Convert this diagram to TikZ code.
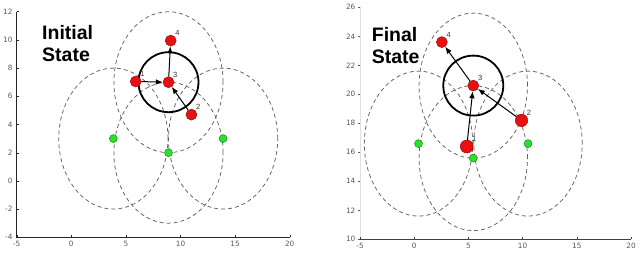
\documentclass[tikz,border=0pt]{standalone}
\usepackage{fontspec}
\setmainfont{Liberation Sans}
\newfontfamily\tickfont{DejaVu Sans}
\usepackage{tikz}
\usetikzlibrary{arrows.meta}
\usepackage{xcolor}
\definecolor{nodered}{RGB}{232,16,16}
\definecolor{rededge}{RGB}{140,0,0}
\definecolor{nodegreen}{RGB}{40,225,40}
\definecolor{greenedge}{RGB}{20,120,20}

\begin{document}
\begin{tikzpicture}[x=1pt, y=1pt,
  rnode/.style={circle, draw=rededge, fill=nodered, line width=0.4pt, inner sep=0pt, minimum size=11pt},
  gnode/.style={circle, draw=greenedge, fill=nodegreen, line width=0.4pt, inner sep=0pt, minimum size=8pt},
  rangeline/.style={draw=black!62, dash pattern=on 4pt off 3pt, line width=0.75pt},
  cover/.style={draw=black, line width=1.8pt},
  link/.style={-{Latex[length=7pt,width=5.5pt]}, line width=1pt},
  numlbl/.style={font=\fontsize{7.5}{8}\selectfont, text=black!80, inner sep=0.5pt},
  ticklbl/.style={font=\tickfont\fontsize{7.3}{8}\selectfont, text=black!65, inner sep=0pt},
  title/.style={font=\bfseries\fontsize{19.5}{22.4}\selectfont, align=left, inner sep=0pt, anchor=north west}]
  \useasboundingbox (0,0) rectangle (640,255);

  \node[title] (tinit) at (42,230) {Initial\\State};
  \begin{scope}[shift={(71.3,74.1)}, x=10.92pt, y=14.1pt]
    \draw[black!85, line width=0.7pt] (-5,12) -- (-5,-4) -- (20,-4);
    \foreach \y in {-4,-2,...,12} {
      \draw[black!85] (-5,\y) -- ++(2pt,0);
      \node[ticklbl, anchor=east] at ([xshift=-4pt]-5,\y) {\y};
    }
    \foreach \x in {-5,0,...,20} {
      \draw[black!85] (\x,-4) -- ++(0,2.5pt);
      \node[ticklbl, anchor=north] at ([yshift=-4pt]\x,-4) {\x};
    }
    \foreach \p in {(8.9,7),(3.85,3),(8.9,2),(13.9,3)}
      \draw[rangeline] \p circle [radius=5];
    \draw[cover] (8.9,7) circle [radius=30pt];
    \node[gnode] (Lg1) at (3.85,3) {};
    \node[gnode] (Lg2) at (8.9,2) {};
    \node[gnode] (Lg3) at (13.9,3) {};
    \node[rnode, label={[numlbl]45:1}] (L1) at (5.9,7.05) {};
    \node[rnode, label={[numlbl]45:2}] (L2) at (11,4.7) {};
    \node[rnode, label={[numlbl]45:3}] (L3) at (8.9,7) {};
    \node[rnode, label={[numlbl]45:4}] (L4) at (9.1,9.95) {};
    \draw[link] (L1) -- (L3);
    \draw[link] (L2) -- (L3);
    \draw[link] (L3) -- (L4);
  \end{scope}

  \node[title] (tfinal) at (371.7,228.3) {Final\\State};
  \begin{scope}[shift={(414.2,-129.3)}, x=10.84pt, y=14.5pt]
    \draw[black!12, line width=0.6pt] (-5,26) -- (-5,10);
    \draw[black!75, line width=0.7pt] (-5,10) -- (20,10);
    \foreach \y in {10,12,...,26} {
      \draw[black!65] (-5,\y) -- ++(-2pt,0);
      \node[ticklbl, anchor=east] at ([xshift=-4.5pt]-5,\y) {\y};
    }
    \foreach \x in {-5,0,...,20} {
      \draw[black!75] (\x,10) -- ++(0,2.5pt);
      \node[ticklbl, anchor=north] at ([yshift=-4pt]\x,10) {\x};
    }
    \foreach \p in {(5.45,20.6),(0.4,16.6),(5.45,15.6),(10.5,16.6)}
      \draw[rangeline] \p circle [radius=5];
    \draw[cover] (5.45,20.6) circle [radius=30pt];
    \node[gnode] (Rg1) at (0.4,16.6) {};
    \node[gnode] (Rg2) at (5.45,15.6) {};
    \node[gnode] (Rg3) at (10.5,16.6) {};
    \node[rnode, minimum size=13pt, label={[numlbl]45:1}] (R1) at (4.85,16.4) {};
    \node[rnode, minimum size=12.5pt, label={[numlbl]45:2}] (R2) at (9.9,18.2) {};
    \node[rnode, label={[numlbl]45:3}] (R3) at (5.45,20.6) {};
    \node[rnode, label={[numlbl]45:4}] (R4) at (2.55,23.6) {};
    \draw[link] (R1) -- (R3);
    \draw[link] (R2) -- (R3);
    \draw[link] (R3) -- (R4);
  \end{scope}
\end{tikzpicture}
\end{document}
